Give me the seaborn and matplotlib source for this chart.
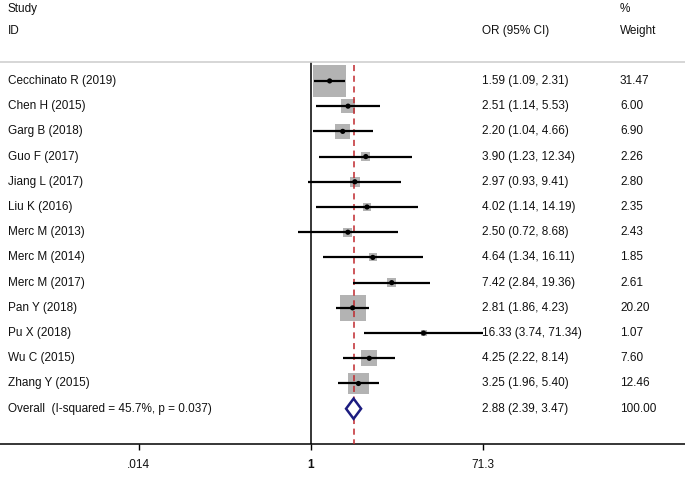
import numpy as np
import pandas as pd
import matplotlib
matplotlib.use("Agg")
import matplotlib.pyplot as plt
import matplotlib.transforms as mtransforms
import seaborn as sns

# study data
studies = ["Cecchinato R (2019)", "Chen H (2015)", "Garg B (2018)", "Guo F (2017)",
           "Jiang L (2017)", "Liu K (2016)", "Merc M (2013)", "Merc M (2014)",
           "Merc M (2017)", "Pan Y (2018)", "Pu X (2018)", "Wu C (2015)", "Zhang Y (2015)"]
odds = [1.59, 2.51, 2.20, 3.90, 2.97, 4.02, 2.50, 4.64, 7.42, 2.81, 16.33, 4.25, 3.25]
ci_low = [1.09, 1.14, 1.04, 1.23, 0.93, 1.14, 0.72, 1.34, 2.84, 1.86, 3.74, 2.22, 1.96]
ci_high = [2.31, 5.53, 4.66, 12.34, 9.41, 14.19, 8.68, 16.11, 19.36, 4.23, 71.34, 8.14, 5.40]
weights = [31.47, 6.00, 6.90, 2.26, 2.80, 2.35, 2.43, 1.85, 2.61, 20.20, 1.07, 7.60, 12.46]

overall_label = "Overall  (I-squared = 45.7%, p = 0.037)"
overall_or, overall_lo, overall_hi = 2.88, 2.39, 3.47

tick_vals = [0.014, 1, 71.3]
tick_labels = [".014", "1", "71.3"]

df = pd.DataFrame({"study": studies, "or": odds, "lo": ci_low, "hi": ci_high,
                   "weight": weights, "row": np.arange(len(studies))})
n = len(studies)

sns.set_theme(style="white")
plt.rcParams["font.family"] = ["Liberation Sans", "DejaVu Sans"]
plt.rcParams["text.color"] = "#111111"
plt.rcParams["xtick.color"] = "black"
plt.rcParams["xtick.labelcolor"] = "#111111"

fig = plt.figure(figsize=(6.85, 4.83), dpi=100)
ax = fig.add_axes([0, 39 / 483, 1, 444 / 483])
ax.set_xscale("log")
ax.set_xlim(10 ** -3.35, 10 ** 4.03)
ax.set_ylim(14.4, -3.21)

# grey weight boxes (area proportional to weight)
k = 17.5
sns.scatterplot(data=df, x="or", y="row", size="weight",
                sizes=(min(weights) * k, max(weights) * k), marker="s",
                color="#b3b3b3", edgecolor="none", legend=False, ax=ax, zorder=2)

# reference lines
top_line = -0.75
ax.vlines(1, top_line, 14.4, color="black", lw=1.1, zorder=1)
ax.vlines(overall_or, top_line + 0.1, 14.4, color="#c0282d", lw=1.1,
          linestyles=(0, (4, 3)), zorder=3)
ax.axhline(top_line, color="#d0d0d0", lw=1.2)

# confidence intervals and point estimates
ax.hlines(df["row"], df["lo"], df["hi"], color="black", lw=1.6, zorder=4)
sns.scatterplot(data=df, x="or", y="row", color="black", s=14, edgecolor="none",
                legend=False, ax=ax, zorder=5)

# overall diamond
ov_row = n
h = 0.4
ax.fill([overall_lo, overall_or, overall_hi, overall_or],
        [ov_row, ov_row - h, ov_row, ov_row + h],
        facecolor="white", edgecolor="#1c1c80", lw=1.8, zorder=6)

# text columns
trans = mtransforms.blended_transform_factory(ax.transAxes, ax.transData)
fs = 8.5
x_study, x_or, x_w = 8 / 685, 482 / 685, 620 / 685
ax.text(x_study, -2.86, "Study", transform=trans, fontsize=fs, va="center")
ax.text(x_study, -1.98, "ID", transform=trans, fontsize=fs, va="center")
ax.text(x_w, -2.86, "%", transform=trans, fontsize=fs, va="center")
ax.text(x_or, -1.98, "OR (95% CI)", transform=trans, fontsize=fs, va="center")
ax.text(x_w, -1.98, "Weight", transform=trans, fontsize=fs, va="center")

for i, r in df.iterrows():
    ax.text(x_study, r["row"], r["study"], transform=trans, fontsize=fs, va="center")
    ax.text(x_or, r["row"], f"{r['or']:.2f} ({r['lo']:.2f}, {r['hi']:.2f})",
            transform=trans, fontsize=fs, va="center")
    ax.text(x_w, r["row"], f"{r['weight']:.2f}", transform=trans, fontsize=fs, va="center")

ax.text(x_study, ov_row, overall_label, transform=trans, fontsize=fs, va="center")
ax.text(x_or, ov_row, f"{overall_or:.2f} ({overall_lo:.2f}, {overall_hi:.2f})",
        transform=trans, fontsize=fs, va="center")
ax.text(x_w, ov_row, "100.00", transform=trans, fontsize=fs, va="center")

# axis styling
for side in ["top", "left", "right"]:
    ax.spines[side].set_visible(False)
ax.spines["bottom"].set_color("black")
ax.spines["bottom"].set_linewidth(1.1)
ax.set_xticks(tick_vals)
ax.set_xticklabels(tick_labels, fontsize=fs)
ax.xaxis.set_minor_locator(matplotlib.ticker.NullLocator())
ax.tick_params(axis="x", direction="out", length=4.5, width=1, color="black",
               bottom=True, pad=6.5)
ax.get_xticklabels()[1].set_fontweight("bold")
ax.set_yticks([])
ax.set_xlabel("")
ax.set_ylabel("")

fig.savefig("out.png", dpi=100)
